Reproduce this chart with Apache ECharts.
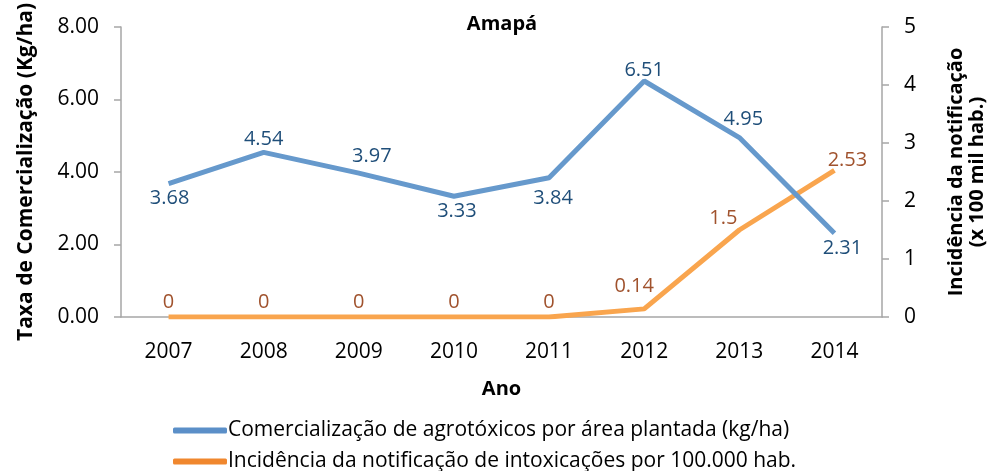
<!DOCTYPE html>
<html>
<head>
<meta charset="utf-8">
<script src="https://cdn.jsdelivr.net/npm/echarts@6/dist/echarts.min.js"></script>
<style>
  html, body { margin: 0; padding: 0; background: #fff; }
  #chart { width: 991px; height: 471px; }
</style>
</head>
<body>
<div id="chart"></div>
<script>
// dados do gráfico
const anos = ['2007', '2008', '2009', '2010', '2011', '2012', '2013', '2014'];
const taxaComercializacao = [3.68, 4.54, 3.97, 3.33, 3.84, 6.51, 4.95, 2.31];
const incidencia = [0, 0, 0, 0, 0, 0.14, 1.5, 2.53];
const nomeTaxa = 'Comercialização de agrotóxicos por área plantada (kg/ha)';
const nomeInc = 'Incidência da notificação de intoxicações por 100.000 hab.';
// posição dos rótulos como no original
const posRotuloTaxa = ['bottom', 'top', 'top', 'bottom', 'bottom', 'top', 'top', 'bottom'];
const desvioRotuloTaxa = [[1, 0], [0, 2], [13, -2], [3, 0], [4, 5], [0, 4], [4, -3], [8, 0]];
const desvioRotuloInc = [[0, 0], [0, 0], [0, 0], [0, 0], [0, 0], [-10, -8], [-16, 3], [13, 5]];

const fonte = '"Open Sans", "Noto Sans", sans-serif';
const myChart = echarts.init(document.getElementById('chart'));

const legenda = (nome, cor, top) => ({
    left: 168,
    top: top,
    itemWidth: 54,
    itemHeight: 6,
    icon: 'roundRect',
    selectedMode: false,
    textStyle: { fontSize: 21, color: '#000', fontFamily: fonte, padding: [0, 0, 0, -4] },
    data: [{ name: nome, itemStyle: { color: cor } }]
});

const options = {
    animation: false,
    textStyle: { fontFamily: fonte },
    title: {
        text: 'Amapá',
        left: 497,
        top: 9,
        textAlign: 'center',
        textStyle: { fontSize: 20, fontWeight: 'bold', color: '#000', fontFamily: fonte }
    },
    grid: { left: 121, right: 109, top: 27, bottom: 154, outerBoundsMode: 'none' },
    legend: [
        legenda(nomeTaxa, '#5b8fc8', 415),
        legenda(nomeInc, '#f0872e', 446)
    ],
    xAxis: {
        type: 'category',
        data: anos,
        name: 'Ano',
        nameLocation: 'middle',
        nameGap: 62,
        nameTextStyle: { fontSize: 20, fontWeight: 'bold', color: '#000' },
        axisLine: { lineStyle: { color: '#a6a6a6', width: 1.5 } },
        axisTick: { show: false },
        axisLabel: { fontSize: 21, color: '#000', margin: 25 }
    },
    yAxis: [
        {
            type: 'value',
            min: 0, max: 8, interval: 2,
            name: 'Taxa de Comercialização (Kg/ha)',
            nameLocation: 'middle',
            nameRotate: 90,
            nameGap: 84,
            nameTextStyle: { fontSize: 21, fontWeight: 'bold', color: '#000' },
            axisLine: { show: true, lineStyle: { color: '#a6a6a6', width: 1.5 } },
            axisTick: { show: true, length: 7, lineStyle: { color: '#a6a6a6', width: 1.5 } },
            splitLine: { show: false },
            axisLabel: { fontSize: 21, color: '#000', margin: 22, formatter: v => v.toFixed(2) }
        },
        {
            type: 'value',
            min: 0, max: 5, interval: 1,
            name: 'Incidência da notificação\n(x 100 mil hab.)',
            nameLocation: 'middle',
            nameRotate: 90,
            nameGap: 64,
            nameTextStyle: { fontSize: 20, fontWeight: 'bold', color: '#000', lineHeight: 21 },
            axisLine: { show: true, lineStyle: { color: '#a6a6a6', width: 1.5 } },
            axisTick: { show: true, length: 7, lineStyle: { color: '#a6a6a6', width: 1.5 } },
            splitLine: { show: false },
            axisLabel: { fontSize: 21, color: '#000', margin: 22 }
        }
    ],
    series: [
        {
            name: nomeTaxa,
            type: 'line',
            yAxisIndex: 0,
            data: taxaComercializacao.map((v, i) => ({
                value: v,
                label: { position: posRotuloTaxa[i], offset: desvioRotuloTaxa[i] }
            })),
            symbol: 'circle',
            symbolSize: 0,
            lineStyle: { color: '#6699cc', width: 5 },
            itemStyle: { color: '#6699cc' },
            label: { show: true, fontSize: 20, color: '#1f4e79', distance: 5 },
            z: 3
        },
        {
            name: nomeInc,
            type: 'line',
            yAxisIndex: 1,
            data: incidencia.map((v, i) => ({
                value: v,
                label: { offset: desvioRotuloInc[i] }
            })),
            symbol: 'circle',
            symbolSize: 0,
            lineStyle: { color: '#f9a54e', width: 5 },
            itemStyle: { color: '#f9a54e' },
            label: { show: true, position: 'top', fontSize: 20, color: '#a0522d', distance: 5 },
            z: 2
        }
    ]
};

myChart.setOption(options);
</script>
</body>
</html>
